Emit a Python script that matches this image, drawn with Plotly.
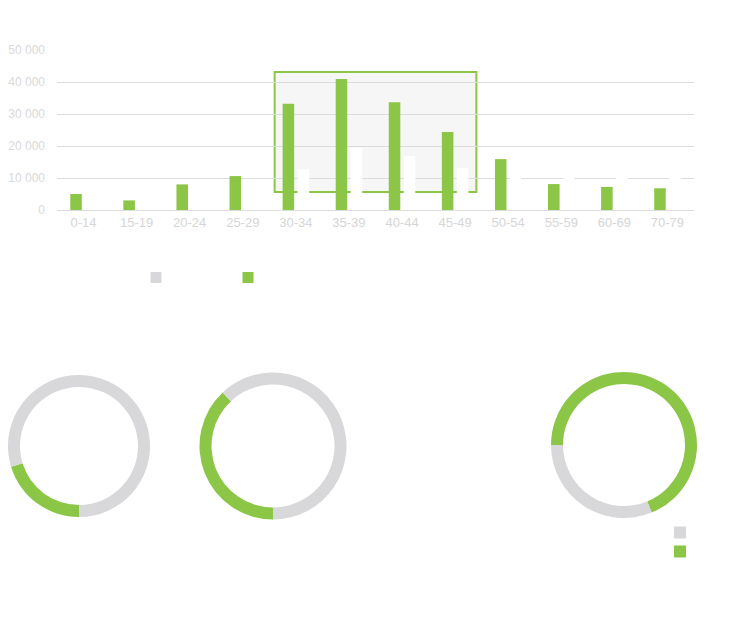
import plotly.graph_objects as go

# Age groups and population values
age_groups = ['0-14', '15-19', '20-24', '25-29', '30-34', '35-39',
              '40-44', '45-49', '50-54', '55-59', '60-69', '70-79']
men = [5000, 3000, 8000, 10600, 33200, 40900, 33700, 24400, 15900, 8100, 7200, 6800]
women = [2000, 1500, 4000, 5000, 12700, 19400, 16900, 13100, 12500, 11500, 11000, 10800]

legend_names = ['Women', 'Men']

# Donut shares (green part, grey part)
donut_green = [20.3, 38.0, 68.8]
donut_grey = [79.7, 62.0, 31.2]
donut_labels = ['No', 'Yes']

GREEN = '#8bc646'
GREY = '#d8d8da'

# the page body has an 8px margin, so the figure is 16px smaller than the window
OX, OY = 8, 8
W, H = 738 - 2 * OX, 629 - 2 * OY


def px_x(x):
    return min(max((x - OX) / W, 0), 1)


def px_y(y):
    return min(max(1 - (y - OY) / H, 0), 1)


fig = go.Figure()

# Bars
fig.add_trace(go.Bar(x=age_groups, y=men, name=legend_names[1],
                     marker=dict(color=GREEN, line=dict(width=0)),
                     showlegend=False))
fig.add_trace(go.Bar(x=age_groups, y=women, name=legend_names[0],
                     marker=dict(color='#ffffff', line=dict(width=0)),
                     showlegend=False))

# legend-only entries (grey / green squares)
fig.add_trace(go.Scatter(x=[None], y=[None], mode='markers', name=legend_names[0],
                         marker=dict(symbol='square', size=11, color=GREY)))
fig.add_trace(go.Scatter(x=[None], y=[None], mode='markers', name=legend_names[1],
                         marker=dict(symbol='square', size=11, color=GREEN)))

# Donuts (center x, center y, radius in window px)
centers = [(79, 446, 71), (273, 446, 73.5), (624, 445, 73)]
rotations = [180, 180, 270]
for i, (cx, cy, r) in enumerate(centers):
    fig.add_trace(go.Pie(
        labels=[donut_labels[1], donut_labels[0]],
        values=[donut_green[i], donut_grey[i]],
        marker=dict(colors=[GREEN, GREY], line=dict(width=0)),
        hole=1 - 12 / r,
        sort=False,
        direction='clockwise',
        rotation=rotations[i],
        textinfo='none',
        automargin=False,
        showlegend=(i == 2),
        legend='legend2',
        domain=dict(x=[px_x(cx - r), px_x(cx + r)], y=[px_y(cy + r), px_y(cy - r)]),
    ))

# Highlight box behind the 30-49 groups
fig.add_shape(type='rect', xref='x', yref='y', x0=3.6, x1=7.4, y0=5600, y1=43100,
              fillcolor='#f6f6f6', line=dict(color=GREEN, width=2), layer='below')

fig.update_layout(
    template='none',
    width=W, height=H,
    margin=dict(l=0, r=0, t=0, b=0, pad=0),
    paper_bgcolor='white',
    plot_bgcolor='white',
    font=dict(family='Liberation Sans, Arial, sans-serif', size=13, color='#d6d6d6'),
    separators='. ',
    barmode='group',
    bargap=0.435,
    bargroupgap=0.23,
    xaxis=dict(domain=[px_x(57), px_x(694)], showgrid=False, showline=True, automargin=False,
               zeroline=False, linecolor='#dcdcdc', linewidth=1, ticks='',
               tickfont=dict(color='#d6d6d6')),
    yaxis=dict(domain=[px_y(210), px_y(50)], range=[0, 50000], dtick=10000,
               tickformat=',d', showgrid=True, gridcolor='#dcdcdc', gridwidth=1,
               showline=False, automargin=False,
               zeroline=False, ticks='', ticklabelstandoff=11,
               tickfont=dict(color='#d9d9d9', size=12)),
    legend=dict(orientation='h', x=px_x(136), y=px_y(263), xanchor='left', yanchor='top',
                font=dict(color='white', size=12), bgcolor='rgba(0,0,0,0)',
                borderwidth=0, entrywidth=47),
    legend2=dict(orientation='v', x=px_x(660), y=px_y(518), xanchor='left', yanchor='top',
                 traceorder='reversed', borderwidth=0,
                 font=dict(color='white', size=11), bgcolor='rgba(0,0,0,0)'),
    hovermode=False,
)

fig.write_html("out.html")
